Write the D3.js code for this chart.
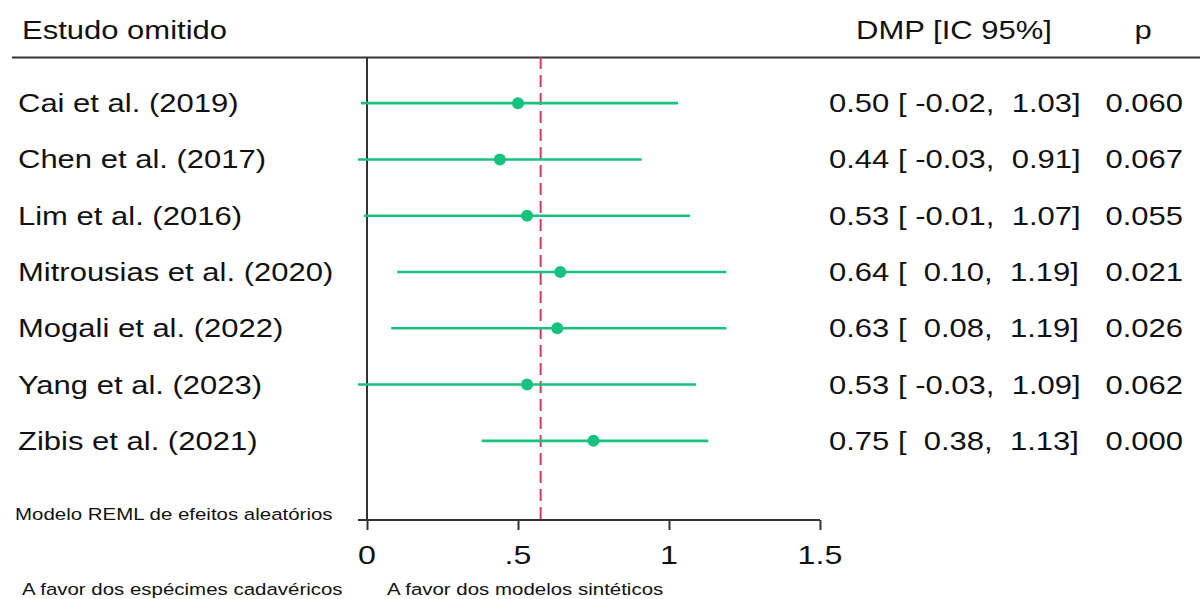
<!DOCTYPE html>
<html><head><meta charset="utf-8">
<script src="https://cdn.jsdelivr.net/npm/d3@7"></script>
<style>body{margin:0;background:#fff}svg{display:block}text{font-family:"Liberation Sans",Arial,sans-serif;fill:#111;white-space:pre}</style>
</head><body>
<svg id="c" width="1200" height="599"></svg>
<script>
const studies = ["Cai et al. (2019)","Chen et al. (2017)","Lim et al. (2016)","Mitrousias et al. (2020)","Mogali et al. (2022)","Yang et al. (2023)","Zibis et al. (2021)"];
const estimates = [0.50,0.44,0.53,0.64,0.63,0.53,0.75];
const lower = [-0.02,-0.03,-0.01,0.10,0.08,-0.03,0.38];
const upper = [1.03,0.91,1.07,1.19,1.19,1.09,1.13];
const pvalues = ["0.060","0.067","0.055","0.021","0.026","0.062","0.000"];
const overall = 0.575;
const xTicks = [0,0.5,1,1.5];
const xTickLabels = ["0",".5","1","1.5"];

const svg = d3.select("#c");
const SX = 1.24;
const x = d3.scaleLinear().domain([0,1.5]).range([367,820]);
const y = d3.scaleBand().domain(studies).range([75,469]);
const yc = d => y(d) + y.bandwidth()/2;
const green = "#17c27f";

function txt(xp, yp, s, size, anchor){
  return svg.append("text").attr("transform",`translate(${xp},${yp}) scale(${SX},1)`)
    .attr("text-anchor",anchor||"start").style("font-size",size+"px").text(s);
}

// header
txt(22,39,"Estudo omitido",25);
txt(954,39,"DMP [IC 95%]",25,"middle");
txt(1143,39,"p",25,"middle");
svg.append("line").attr("x1",12).attr("x2",1200).attr("y1",57.5).attr("y2",57.5).attr("stroke","#333").attr("stroke-width",2);

// vertical axis line at 0
svg.append("line").attr("x1",x(0)).attr("x2",x(0)).attr("y1",57).attr("y2",520).attr("stroke","#333").attr("stroke-width",2);

// x axis
const ax = svg.append("g").attr("transform","translate(0,520)")
  .call(d3.axisBottom(x).tickValues(xTicks).tickFormat((d,i)=>xTickLabels[i]).tickSize(10).tickSizeOuter(0));
ax.select(".domain").remove();
ax.selectAll(".tick line").attr("stroke","#333").attr("stroke-width",2);
ax.selectAll(".tick text").remove();
xTicks.forEach((t,i)=>txt(x(t),564,xTickLabels[i],26,"middle"));
svg.append("line").attr("x1",x(-0.03)).attr("x2",x(1.5)).attr("y1",520).attr("y2",520).attr("stroke","#333").attr("stroke-width",2);

// overall dashed line
svg.append("line").attr("x1",x(overall)).attr("x2",x(overall)).attr("y1",57).attr("y2",519)
  .attr("stroke","#d9365f").attr("stroke-width",2).attr("stroke-dasharray","12,6");

// CIs and points
svg.selectAll(".ci").data(studies).enter().append("line")
  .attr("x1",(d,i)=>x(lower[i])).attr("x2",(d,i)=>x(upper[i]))
  .attr("y1",d=>yc(d)).attr("y2",d=>yc(d)).attr("stroke",green).attr("stroke-width",2.6);
svg.selectAll(".pt").data(studies).enter().append("circle")
  .attr("cx",(d,i)=>x(estimates[i])).attr("cy",d=>yc(d)).attr("r",6).attr("fill",green);

// labels
const f2 = v => (v<0?"-":" ")+Math.abs(v).toFixed(2);
studies.forEach((s,i)=>{
  txt(18,yc(s)+9,s,25);
  txt(829,yc(s)+9,`${estimates[i].toFixed(2)} [ ${f2(lower[i])},  ${upper[i].toFixed(2)}]`,25);
  txt(1183,yc(s)+9,pvalues[i],25,"end");
});

// footer
txt(15,520,"Modelo REML de efeitos aleatórios",16.5);
txt(22,595,"A favor dos espécimes cadavéricos",16.5);
txt(387,595,"A favor dos modelos sintéticos",16.5);
</script>
</body></html>
